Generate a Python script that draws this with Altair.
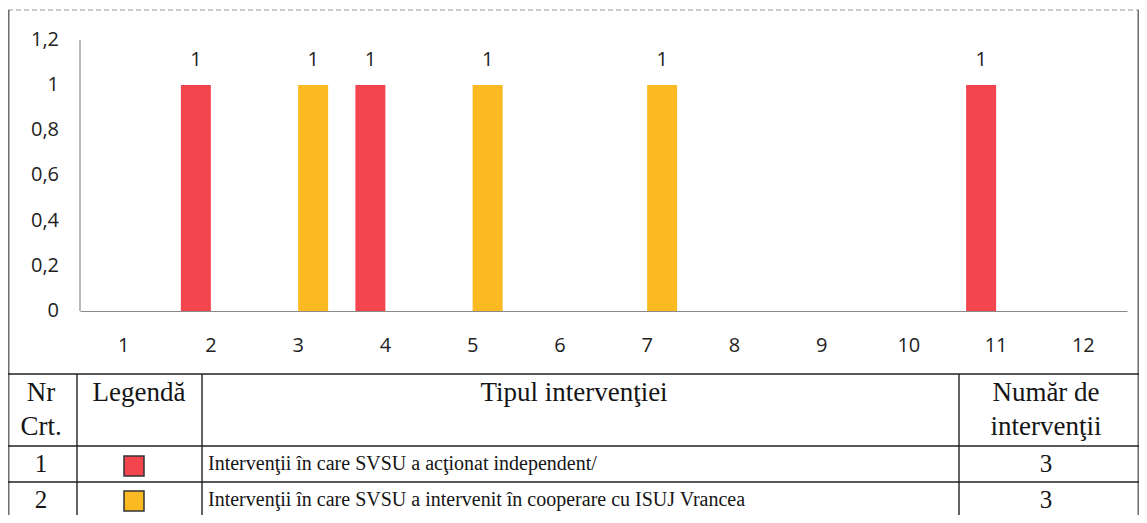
import altair as alt
import pandas as pd

# ---- data ----
months = ["1", "2", "3", "4", "5", "6", "7", "8", "9", "10", "11", "12"]
series_keys = ["independent", "cooperare"]
independent = [0, 1, 0, 1, 0, 0, 0, 0, 0, 0, 1, 0]
cooperare = [0, 0, 1, 0, 1, 0, 1, 0, 0, 0, 0, 0]
series_colors = ["#F2454D", "#FBBA22"]
y_ticks = [0, 0.2, 0.4, 0.6, 0.8, 1.0, 1.2]

header_nr = "Nr\nCrt."
header_legend = "Legendă"
header_type = "Tipul intervenţiei"
header_count = "Număr de\nintervenţii"
row_nr = ["1", "2"]
row_desc = [
    "Intervenţii în care SVSU a acţionat independent/",
    "Intervenţii în care SVSU a intervenit în cooperare cu ISUJ Vrancea",
]
row_counts = [3, 3]

# ---- tables built from the lists ----
bars_df = pd.DataFrame(
    {
        "luna": months * 2,
        "serie": [series_keys[0]] * 12 + [series_keys[1]] * 12,
        "valoare": independent + cooperare,
    }
)
rows_df = pd.DataFrame(
    {"nr": row_nr, "serie": series_keys, "desc": row_desc, "count": row_counts}
)
yticks_df = pd.DataFrame({"v": y_ticks})
ydomain_df = pd.DataFrame({"a": [y_ticks[0]], "b": [y_ticks[-1]]})

W, H = 1131, 507
SANS = "Open Sans"
SERIF = "Liberation Serif"
AX_Y = 303  # pixel row of the category axis
FS = 20

x_scale = alt.Scale(domain=months, range=[72, 1119], paddingInner=0.312, paddingOuter=0.156)
y_scale = alt.Scale(domain=[0, 1.2], range=[AX_Y, 31.8], nice=False)
xo_scale = alt.Scale(domain=series_keys, paddingInner=0, paddingOuter=0)
color_scale = alt.Scale(domain=series_keys, range=series_colors)

bars = alt.Chart(bars_df).mark_bar().encode(
    x=alt.X(
        "luna:N",
        scale=x_scale,
        sort=months,
        axis=alt.Axis(
            title=None,
            offset=AX_Y - H,
            labelAngle=0,
            ticks=False,
            tickSize=0,
            labelPadding=24,
            labelFont=SANS,
            labelFontSize=FS,
            labelColor="#222222",
            domainColor="#8a8a8a",
            domainWidth=1.2,
        ),
    ),
    xOffset=alt.XOffset("serie:N", scale=xo_scale, sort=series_keys),
    y=alt.Y("valoare:Q", scale=y_scale, axis=None),
    color=alt.Color("serie:N", scale=color_scale, legend=None),
)

labels = (
    alt.Chart(bars_df)
    .transform_filter("datum.valoare > 0")
    .mark_text(font=SANS, fontSize=FS, color="#222222", baseline="middle", dy=-25)
    .encode(
        x=alt.X("luna:N", scale=x_scale, sort=months),
        xOffset=alt.XOffset("serie:N", scale=xo_scale, sort=series_keys),
        y=alt.Y("valoare:Q", scale=y_scale, axis=None),
        text=alt.Text("valoare:Q"),
    )
)

# value axis drawn through the y scale
y_labels = (
    alt.Chart(yticks_df)
    .transform_calculate(lab="replace(format(datum.v, '.1~f'), '.', ',')")
    .mark_text(font=SANS, fontSize=FS, color="#222222", align="right", baseline="middle")
    .encode(x=alt.value(51), y=alt.Y("v:Q", scale=y_scale, axis=None), text="lab:N")
)
y_domain = alt.Chart(ydomain_df).mark_rule(color="#8a8a8a", strokeWidth=1.2).encode(
    x=alt.value(72), y=alt.Y("a:Q", scale=y_scale, axis=None), y2="b:Q"
)

plot = alt.layer(bars, labels, y_labels, y_domain)

# ---- table / frame lines (layout decoration) ----
T_TOP, T_HEAD, T_ROW1 = 366, 438, 474
line_layers = []
frame_dash = alt.Chart(pd.DataFrame({"k": [0]})).mark_rule(
    color="#9a9a9a", strokeWidth=1, strokeDash=[5, 3]
).encode(x=alt.value(0), x2=alt.value(W), y=alt.value(2))
line_layers.append(frame_dash)
for xv in [0.8, W - 0.8]:
    line_layers.append(
        alt.Chart(pd.DataFrame({"k": [0]})).mark_rule(color="#555555", strokeWidth=1.3).encode(
            x=alt.value(xv), y=alt.value(2), y2=alt.value(H)
        )
    )
for yv in [T_TOP, T_HEAD, T_ROW1]:
    line_layers.append(
        alt.Chart(pd.DataFrame({"k": [0]})).mark_rule(color="#222222", strokeWidth=1.4).encode(
            x=alt.value(0), x2=alt.value(W), y=alt.value(yv)
        )
    )
for xv in [69, 194, 951]:
    line_layers.append(
        alt.Chart(pd.DataFrame({"k": [0]})).mark_rule(color="#222222", strokeWidth=1.4).encode(
            x=alt.value(xv), y=alt.value(T_TOP), y2=alt.value(H)
        )
    )

# ---- header texts ----
def header(text, xc, size=27):
    return alt.Chart(pd.DataFrame({"t": [text]})).mark_text(
        font=SERIF, fontSize=size, color="#151515", baseline="top", align="center",
        lineBreak="\n", lineHeight=34,
    ).encode(text="t:N", x=alt.value(xc), y=alt.value(T_TOP + 6))

headers = [
    header(header_nr, 33),
    header(header_legend, 131),
    header(header_type, 566),
    header(header_count, 1038),
]

# ---- body rows ----
row_y = alt.Y("nr:N", sort=row_nr, scale=alt.Scale(type="point", domain=row_nr, range=[456, 492], padding=0), axis=None)
sq_y = alt.Y("nr:N", sort=row_nr, scale=alt.Scale(type="point", domain=row_nr, range=[458, 493], padding=0), axis=None)

row_nr_txt = alt.Chart(rows_df).mark_text(font=SERIF, fontSize=25, color="#151515", baseline="middle").encode(
    text="nr:N", x=alt.value(33), y=row_y
)
row_sq = alt.Chart(rows_df).mark_square(size=400, stroke="#333333", strokeWidth=1.5, opacity=1).encode(
    x=alt.value(126), y=sq_y, color=alt.Color("serie:N", scale=color_scale, legend=None)
)
row_desc_txt = alt.Chart(rows_df).mark_text(
    font=SERIF, fontSize=20, color="#151515", baseline="middle", align="left"
).encode(text="desc:N", x=alt.value(200), y=row_y)
row_cnt_txt = alt.Chart(rows_df).mark_text(font=SERIF, fontSize=25, color="#151515", baseline="middle").encode(
    text="count:Q", x=alt.value(1038), y=row_y
)

chart = (
    alt.layer(plot, *line_layers, *headers, row_nr_txt, row_sq, row_desc_txt, row_cnt_txt)
    .resolve_scale(y="independent")
    .properties(width=W, height=H, autosize=alt.AutoSizeParams(type="none"), padding=0, background="white")
    .configure_view(strokeWidth=0)
)

chart.save("out.html", embed_options={"renderer": "svg", "actions": False})
